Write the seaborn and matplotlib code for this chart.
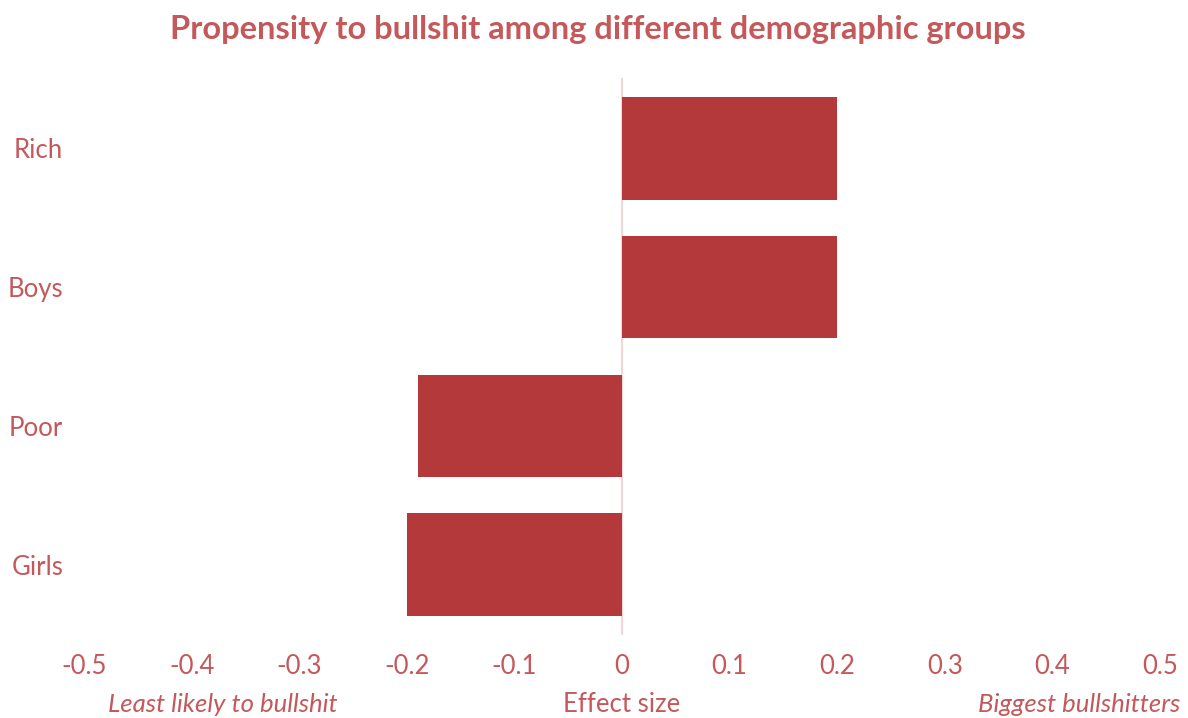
import matplotlib
matplotlib.use("Agg")
import matplotlib.pyplot as plt
import seaborn as sns
import pandas as pd

groups = ["Rich", "Boys", "Poor", "Girls"]
effect = [0.2, 0.2, -0.19, -0.2]
xticks = [-0.5, -0.4, -0.3, -0.2, -0.1, 0, 0.1, 0.2, 0.3, 0.4, 0.5]
xticklabels = ["-0.5", "-0.4", "-0.3", "-0.2", "-0.1", "0", "0.1", "0.2", "0.3", "0.4", "0.5"]

sns.set_theme(style="white")
plt.rcParams['font.family'] = ['Lato', 'DejaVu Sans']

bar_color = "#B3393A"
text_color = "#C4585A"

df = pd.DataFrame({"group": groups, "effect": effect})

fig = plt.figure(figsize=(11.88, 7.18), dpi=100)
ax = fig.add_axes([84/1188, 1-635/718, (1160-84)/1188, (635-78)/718])

sns.barplot(data=df, y="group", x="effect", orient="h", color=bar_color,
            saturation=1, width=0.74, ax=ax, edgecolor=bar_color, linewidth=0)

ax.set_xlim(-0.5, 0.5)
ax.set_ylim(3.508, -0.508)
ax.axvline(0, color="#F2D6D6", lw=1.5, zorder=0)

for s in ax.spines.values():
    s.set_visible(False)
ax.set_xticks(xticks)
ax.set_xticklabels(xticklabels, fontsize=18.5, color=text_color)
ax.tick_params(axis="x", length=0, pad=14)
ax.tick_params(axis="y", length=0, pad=15)
for lab in ax.get_yticklabels():
    lab.set_fontsize(18.5)
    lab.set_color(text_color)
ax.set_xlabel("")
ax.set_ylabel("")

fig.text(598/1188, 1-30/718, "Propensity to bullshit among different demographic groups",
         ha="center", va="center", fontsize=23.5, fontweight="bold", color=text_color)
fig.text(108/1188, 1-705/718, "Least likely to bullshit", ha="left", va="center",
         fontsize=18.5, style="italic", color=text_color)
fig.text(622/1188, 1-705/718, "Effect size", ha="center", va="center",
         fontsize=18.5, color=text_color)
fig.text(1180/1188, 1-705/718, "Biggest bullshitters", ha="right", va="center",
         fontsize=18.5, style="italic", color=text_color)

fig.savefig("out.png", dpi=100)
